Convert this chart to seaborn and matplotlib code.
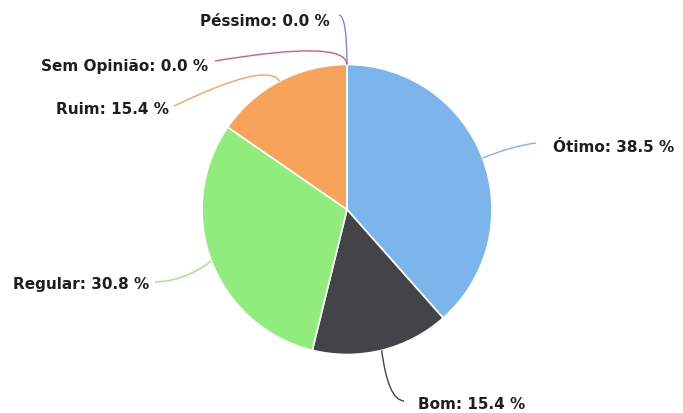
import numpy as np
import matplotlib
matplotlib.use("Agg")
import matplotlib.pyplot as plt
from matplotlib.path import Path
from matplotlib.patches import PathPatch
import seaborn as sns

# ---- data ----
categories = ["Ótimo", "Bom", "Regular", "Ruim", "Péssimo", "Sem Opinião"]
percentages = [38.5, 15.4, 30.8, 15.4, 0.0, 0.0]
colors = ["#7cb5ec", "#434348", "#90ed7d", "#f7a35c", "#8085e9", "#d9558a"]

sns.set_theme(style="white")
plt.rcParams['font.family'] = ['DejaVu Sans']

W, H = 683, 414
fig = plt.figure(figsize=(W / 100, H / 100), dpi=100)
ax = fig.add_axes([0, 0, 1, 1])

cx, cy, R = 347, H - 210.5, 145
wedges, _ = ax.pie(percentages, colors=colors, startangle=90, counterclock=False,
                   center=(cx, cy), radius=R,
                   wedgeprops=dict(edgecolor="white", linewidth=1.2))
ax.set_xlim(0, W)
ax.set_ylim(0, H)
ax.set_aspect("equal")
ax.axis("off")

# label layout (pixel coords from top-left): text pos, ha, connector control, connector end
layout = {
    "Ótimo":       dict(text=(553, 147), ha="left",  ctrl=(512, 147), end=(536, 144)),
    "Bom":         dict(text=(418, 405), ha="left",  ctrl=(388, 401), end=(404, 402)),
    "Regular":     dict(text=(149, 285), ha="right", ctrl=(185, 282), end=(155, 283)),
    "Ruim":        dict(text=(169, 109), ha="right", ctrl=(267, 62),  end=(174, 107)),
    "Péssimo":     dict(text=(330, 21),  ha="right", ctrl=(347, 17),  end=(339, 16)),
    "Sem Opinião": dict(text=(208, 66),  ha="right", ctrl=(346, 40),  end=(215, 62)),
}

for w, cat, pct, col in zip(wedges, categories, percentages, colors):
    mid = np.deg2rad((w.theta1 + w.theta2) / 2)
    sx, sy = cx + R * np.cos(mid), cy + R * np.sin(mid)
    L = layout[cat]
    (kx, ky), (ex, ey) = L["ctrl"], L["end"]
    path = Path([(sx, sy), (kx, H - ky), (ex, H - ey)],
                [Path.MOVETO, Path.CURVE3, Path.CURVE3])
    ax.add_patch(PathPatch(path, fill=False, edgecolor=col, lw=1.0, zorder=3))
    tx, ty = L["text"]
    ax.text(tx, H - ty, f"{cat}: {pct:.1f} %", ha=L["ha"], va="center",
            fontsize=11, fontweight="bold", color="#1e1e1e")

fig.savefig("out.png", dpi=100, facecolor="white")
